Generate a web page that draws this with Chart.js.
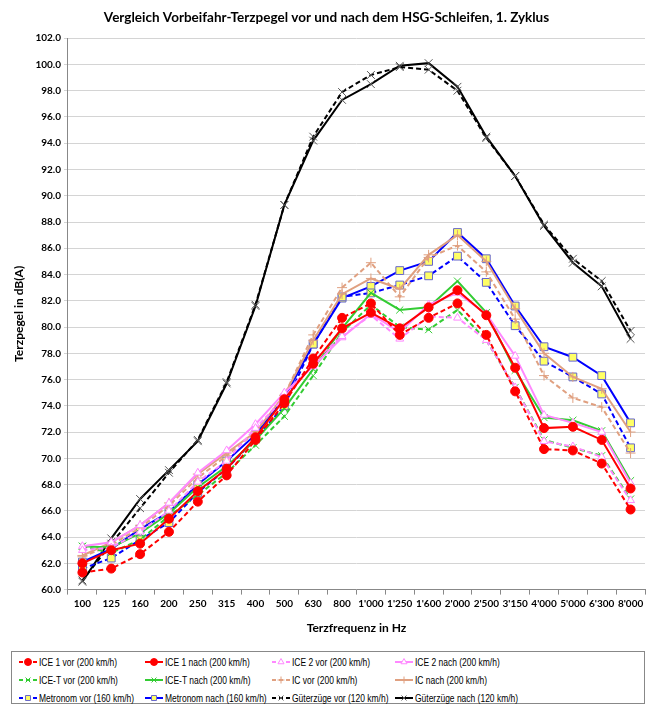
<!DOCTYPE html>
<html>
<head>
<meta charset="utf-8">
<script src="https://cdn.jsdelivr.net/npm/chart.js@4.4.1/dist/chart.umd.min.js"></script>
<style>
  body { margin: 0; background: #fff; font-family: Lato, "Open Sans", sans-serif; }
  #wrap { position: relative; width: 652px; height: 645px; }
  #legend {
    position: absolute; left: 11px; top: 651px; width: 634px; height: 53px;
    border: 1px solid #888; box-sizing: border-box;
    display: grid; grid-template-columns: 126px 127px 123px 1fr; grid-auto-rows: 18px;
    padding: 1px 0 0 6px; font-family: "Liberation Sans", Arial, sans-serif; font-size: 11px; color: #000;
  }
  .item { display: flex; align-items: center; white-space: nowrap; overflow: visible; }
  .item canvas { margin-right: 1px; flex: none; }
  .item span { display: inline-block; transform: scaleX(0.77); transform-origin: left center; }
</style>
</head>
<body>
<div id="wrap"><canvas id="chartLineCanvas" width="652" height="645"></canvas></div>
<div id="legend"></div>
<script>
const labels = ["100", "125", "160", "200", "250", "315", "400", "500", "630", "800", "1'000", "1'250", "1'600", "2'000", "2'500", "3'150", "4'000", "5'000", "6'300", "8'000"];

const ice1Vor   = [61.3, 61.6, 62.7, 64.4, 66.7, 68.7, 71.4, 74.2, 77.6, 80.7, 81.8, 79.4, 80.7, 81.8, 79.4, 75.1, 70.7, 70.6, 69.6, 66.1];
const ice1Nach  = [62.0, 63.0, 63.5, 65.4, 67.5, 69.2, 71.6, 74.5, 77.2, 79.9, 81.1, 79.9, 81.5, 82.8, 80.9, 76.9, 72.3, 72.4, 71.4, 67.7];
const ice2Vor   = [63.0, 63.2, 64.4, 66.0, 68.2, 69.8, 72.3, 74.6, 77.4, 79.3, 80.9, 79.1, 80.8, 80.7, 79.0, 75.4, 71.3, 70.9, 70.1, 66.8];
const ice2Nach  = [63.3, 63.6, 64.9, 66.6, 68.9, 70.6, 72.6, 75.0, 77.0, 79.2, 81.0, 79.6, 81.7, 82.6, 81.0, 77.8, 73.3, 72.7, 72.0, 68.1];
const iceTVor   = [63.3, 62.8, 63.8, 65.6, 67.2, 68.9, 71.0, 73.2, 76.3, 79.6, 81.7, 80.0, 79.8, 81.3, 79.0, 75.4, 71.4, 70.8, 70.2, 66.9];
const iceTNach  = [63.3, 63.2, 64.3, 65.8, 67.8, 69.4, 71.4, 73.8, 76.8, 79.9, 82.6, 81.3, 81.5, 83.5, 81.1, 76.7, 73.1, 72.9, 72.1, 68.3];
const icVor     = [62.5, 63.4, 64.7, 66.4, 68.5, 70.2, 72.0, 74.8, 79.4, 83.0, 84.9, 82.3, 85.3, 86.2, 84.2, 80.6, 76.3, 74.6, 73.9, 70.4];
const icNach    = [62.6, 63.6, 64.9, 66.6, 68.8, 70.4, 72.0, 74.8, 79.0, 82.5, 83.7, 82.9, 85.5, 87.0, 85.0, 81.4, 78.0, 76.2, 75.3, 72.0];
const metroVor  = [61.6, 62.4, 63.8, 65.1, 67.4, 69.2, 71.5, 74.0, 78.7, 82.3, 82.6, 83.2, 83.9, 85.4, 83.4, 80.1, 77.4, 76.2, 74.9, 70.8];
const metroNach = [62.1, 63.1, 64.6, 65.9, 68.0, 69.8, 71.8, 74.6, 78.7, 82.2, 83.1, 84.3, 85.0, 87.2, 85.2, 81.6, 78.5, 77.7, 76.3, 72.7];
const gueterVor = [60.7, 63.5, 66.2, 68.9, 71.4, 75.8, 81.7, 89.3, 94.5, 97.9, 99.2, 99.8, 99.6, 98.0, 94.4, 91.5, 87.8, 85.2, 83.5, 79.7];
const gueterNach= [60.6, 63.9, 66.9, 69.1, 71.3, 75.7, 81.6, 89.3, 94.2, 97.3, 98.5, 99.9, 100.1, 98.3, 94.5, 91.5, 87.7, 84.9, 83.1, 79.1];

const RED = '#ff0000', PINK = '#ff88ff', GREEN = '#33cc33', TAN = '#e0a080', BLUE = '#0000ff', BLACK = '#000000';
const DASH = [5, 3];

function series(label, data, color, dashed, point, opts) {
    return Object.assign({
        label: label,
        data: data,
        borderColor: color,
        backgroundColor: color,
        borderWidth: 2,
        borderDash: dashed ? DASH : [],
        pointStyle: point,
        pointRadius: 4,
        pointBorderWidth: 1,
        pointBorderColor: color,
        pointBackgroundColor: color,
        tension: 0
    }, opts || {});
}

const datasets = [
    series('ICE 1 vor (200 km/h)', ice1Vor, RED, true, 'circle', { pointRadius: 4.5 }),
    series('ICE 1 nach (200 km/h)', ice1Nach, RED, false, 'circle', { pointRadius: 4.5 }),
    series('ICE 2 vor (200 km/h)', ice2Vor, PINK, true, 'triangle', { pointBackgroundColor: '#ffffff', pointRadius: 4.5 }),
    series('ICE 2 nach (200 km/h)', ice2Nach, PINK, false, 'triangle', { pointBackgroundColor: '#ffffff', pointRadius: 4.5 }),
    series('ICE-T vor (200 km/h)', iceTVor, GREEN, true, 'crossRot', { pointRadius: 5 }),
    series('ICE-T nach (200 km/h)', iceTNach, GREEN, false, 'crossRot', { pointRadius: 5 }),
    series('IC vor (200 km/h)', icVor, TAN, true, 'cross', { pointRadius: 5 }),
    series('IC nach (200 km/h)', icNach, TAN, false, 'cross', { pointRadius: 5 }),
    series('Metronom vor (160 km/h)', metroVor, BLUE, true, 'rect', { pointBackgroundColor: '#ffff66', pointBorderColor: '#6666cc', pointRadius: 5.5 }),
    series('Metronom nach (160 km/h)', metroNach, BLUE, false, 'rect', { pointBackgroundColor: '#ffff66', pointBorderColor: '#6666cc', pointRadius: 5.5 }),
    series('Güterzüge vor (120 km/h)', gueterVor, BLACK, true, 'crossRot', { pointBorderColor: '#555555', pointRadius: 5.5 }),
    series('Güterzüge nach (120 km/h)', gueterNach, BLACK, false, 'crossRot', { pointBorderColor: '#555555', pointRadius: 5.5 })
];

const ctx = document.getElementById('chartLineCanvas').getContext('2d');
const chartLine = new Chart(ctx, {
    type: 'line',
    data: { labels: labels, datasets: datasets },
    options: {
        responsive: false,
        animation: false,
        layout: { padding: { left: 8, right: 7, top: 6, bottom: 6 } },
        scales: {
            x: {
                offset: true,
                grid: { offset: true, drawOnChartArea: false, drawTicks: true, tickLength: 5, color: '#888' },
                border: { color: '#888' },
                ticks: { color: '#000', font: { family: 'Lato', size: 10, weight: 'bold' }, maxRotation: 0, autoSkip: false },
                title: { display: true, text: 'Terzfrequenz in Hz', color: '#000', font: { family: 'Lato', size: 12, weight: 'bold' }, padding: { top: 8 } }
            },
            y: {
                min: 60,
                max: 102,
                ticks: { stepSize: 2, color: '#000', font: { family: 'Lato', size: 10, weight: 'bold' },
                    callback: function (v) { return v.toFixed(1); } },
                grid: { color: '#d4d4d4', lineWidth: 1, tickLength: 4 },
                border: { color: '#888' },
                title: { display: true, text: 'Terzpegel in dB(A)', color: '#000', font: { family: 'Lato', size: 12, weight: 'bold' }, padding: { bottom: 6 } }
            }
        },
        plugins: {
            legend: { display: false },
            tooltip: { enabled: false },
            title: {
                display: true,
                text: 'Vergleich Vorbeifahr-Terzpegel vor und nach dem HSG-Schleifen, 1. Zyklus',
                color: '#000',
                font: { family: 'Lato', size: 13.5, weight: 'bold' },
                padding: { top: 4, bottom: 12 }
            }
        }
    }
});

// HTML legend built from the datasets
const legendBox = document.getElementById('legend');
chartLine.data.datasets.forEach(function (ds) {
    const item = document.createElement('div');
    item.className = 'item';
    const c = document.createElement('canvas');
    c.width = 20; c.height = 10;
    const g = c.getContext('2d');
    g.strokeStyle = ds.borderColor;
    g.lineWidth = 2;
    g.setLineDash(ds.borderDash.length ? [4, 3] : []);
    g.beginPath(); g.moveTo(1, 5); g.lineTo(19, 5); g.stroke();
    g.setLineDash([]);
    g.fillStyle = ds.pointBackgroundColor;
    g.strokeStyle = ds.pointBorderColor;
    g.lineWidth = 1;
    Chart.helpers.drawPoint(g, { pointStyle: ds.pointStyle, radius: 3.5, borderWidth: 1 }, 10, 5);
    item.appendChild(c);
    const s = document.createElement('span');
    s.textContent = ds.label;
    item.appendChild(s);
    legendBox.appendChild(item);
});
</script>
</body>
</html>
